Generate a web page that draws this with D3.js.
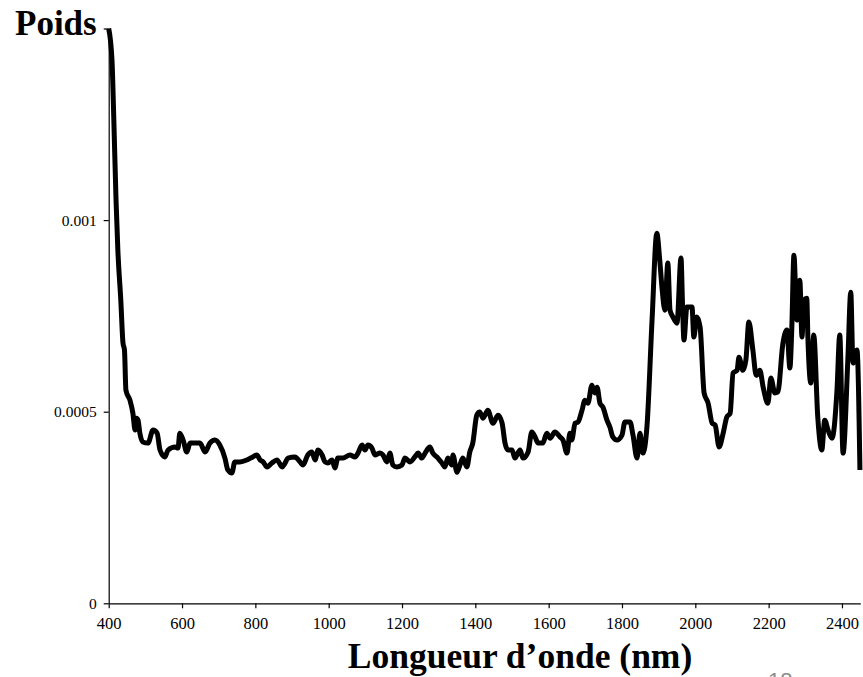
<!DOCTYPE html>
<html>
<head>
<meta charset="utf-8">
<script src="https://cdn.jsdelivr.net/npm/d3@7"></script>
<style>
  html, body { margin: 0; padding: 0; background: #ffffff; }
  svg { display: block; }
</style>
</head>
<body>
<script>
// ---- Data ----
const wavelengths = [400,409,414,420,425,433,439,443,447,458,466,472,476,480,485,493,507,521,532,540,553,562,581,589,594,603,613,622,641,649,663,676,690,703,717,725,736,744,758,777,793,804,813,821,832,845,859,873,881,889,908,922,930,943,954,963,971,982,990,998,1009,1017,1025,1039,1058,1072,1080,1091,1099,1107,1118,1126,1140,1148,1159,1167,1175,1186,1200,1208,1222,1235,1244,1254,1263,1276,1284,1298,1309,1317,1325,1336,1339,1350,1358,1366,1377,1385,1393,1404,1412,1421,1434,1448,1462,1473,1481,1489,1500,1508,1522,1530,1544,1554,1563,1571,1584,1595,1604,1617,1631,1639,1650,1658,1663,1672,1680,1691,1699,1707,1718,1726,1732,1740,1748,1759,1767,1775,1786,1800,1808,1822,1830,1841,1849,1857,1868,1882,1895,1903,1909,1917,1925,1931,1939,1950,1961,1965,1969,1977,1991,1996,2004,2013,2024,2035,2046,2054,2065,2076,2086,2095,2103,2114,2119,2130,2138,2146,2157,2166,2176,2185,2198,2206,2217,2225,2239,2250,2258,2263,2269,2277,2285,2291,2296,2304,2307,2315,2323,2334,2345,2353,2362,2373,2386,2394,2403,2416,2424,2430,2441,2449];
const weights = [0.001500,0.001417,0.001261,0.001052,0.000921,0.000791,0.000679,0.000661,0.000556,0.000530,0.000496,0.000452,0.000483,0.000478,0.000444,0.000421,0.000418,0.000452,0.000444,0.000400,0.000382,0.000400,0.000408,0.000405,0.000444,0.000426,0.000395,0.000418,0.000418,0.000418,0.000395,0.000418,0.000426,0.000413,0.000379,0.000348,0.000340,0.000369,0.000369,0.000374,0.000382,0.000387,0.000374,0.000369,0.000356,0.000366,0.000374,0.000356,0.000366,0.000379,0.000382,0.000369,0.000361,0.000387,0.000395,0.000374,0.000400,0.000387,0.000369,0.000366,0.000374,0.000353,0.000379,0.000379,0.000387,0.000382,0.000392,0.000413,0.000400,0.000413,0.000405,0.000387,0.000392,0.000387,0.000369,0.000392,0.000361,0.000356,0.000361,0.000379,0.000369,0.000382,0.000392,0.000379,0.000392,0.000408,0.000392,0.000379,0.000366,0.000356,0.000379,0.000361,0.000387,0.000342,0.000361,0.000379,0.000356,0.000395,0.000418,0.000491,0.000499,0.000483,0.000504,0.000470,0.000491,0.000470,0.000418,0.000400,0.000400,0.000379,0.000400,0.000379,0.000395,0.000447,0.000434,0.000418,0.000418,0.000444,0.000431,0.000447,0.000434,0.000426,0.000392,0.000444,0.000426,0.000470,0.000473,0.000504,0.000530,0.000522,0.000569,0.000549,0.000564,0.000522,0.000512,0.000478,0.000460,0.000434,0.000426,0.000439,0.000473,0.000473,0.000439,0.000379,0.000444,0.000392,0.000460,0.000739,0.000966,0.000895,0.000825,0.000765,0.000888,0.000765,0.000747,0.000731,0.000901,0.000783,0.000687,0.000773,0.000773,0.000695,0.000747,0.000721,0.000549,0.000522,0.000470,0.000465,0.000408,0.000444,0.000486,0.000496,0.000601,0.000608,0.000642,0.000608,0.000635,0.000734,0.000661,0.000595,0.000608,0.000564,0.000522,0.000588,0.000549,0.000551,0.000679,0.000713,0.000614,0.000713,0.000908,0.000739,0.000843,0.000695,0.000791,0.000796,0.000695,0.000575,0.000700,0.000486,0.000400,0.000478,0.000452,0.000431,0.000549,0.000700,0.000392,0.000635,0.000812,0.000627,0.000661,0.000348];
const xTicks = [400,600,800,1000,1200,1400,1600,1800,2000,2200,2400];
const yTicks = [0, 0.0005, 0.001, 0.0015];
const yTickLabels = ["0", "0.0005", "0.001", ""];
const yTitle = "Poids";
const xTitle = "Longueur d\u2019onde (nm)";
const pageNumber = "18";

// ---- Layout ----
const W = 863, H = 677;
const plotLeft = 108.7, plotRight = 860.3, plotTop = 28.5, plotBottom = 603.3;
const serif = "'Liberation Serif', 'Times New Roman', Times, serif";

const svg = d3.select("body").append("svg")
  .attr("width", W).attr("height", H)
  .attr("viewBox", `0 0 ${W} ${H}`);

const x = d3.scaleLinear().domain([400, 2450]).range([plotLeft, plotRight]);
const y = d3.scaleLinear().domain([0, 0.0015]).range([plotBottom, plotTop]);

// X axis
const xAxis = svg.append("g")
  .attr("transform", `translate(0,${plotBottom})`)
  .call(d3.axisBottom(x).tickValues(xTicks).tickSize(5).tickSizeOuter(0).tickPadding(9)
        .tickFormat(d3.format("d")));
xAxis.select(".domain").attr("stroke", "#000").attr("stroke-width", 1.2);
xAxis.selectAll(".tick line").attr("stroke", "#000").attr("stroke-width", 1.2);
xAxis.selectAll("text").attr("font-family", serif).attr("font-size", 16.5).attr("fill", "#000");

// Y axis
const yAxis = svg.append("g")
  .attr("transform", `translate(${plotLeft},0)`)
  .call(d3.axisLeft(y).tickValues(yTicks).tickSize(5).tickSizeOuter(0).tickPadding(7)
        .tickFormat((d, i) => yTickLabels[i]));
yAxis.select(".domain").attr("stroke", "#000").attr("stroke-width", 1.2);
yAxis.selectAll(".tick line").attr("stroke", "#000").attr("stroke-width", 1.2);
yAxis.selectAll("text").attr("font-family", serif).attr("font-size", 15.5).attr("fill", "#000");

// Line
const pts = wavelengths.map((w, i) => [w, weights[i]]);
const line = d3.line().x(d => x(d[0])).y(d => y(d[1])).curve(d3.curveMonotoneX);
svg.append("path")
  .datum(pts)
  .attr("d", line)
  .attr("fill", "none")
  .attr("stroke", "#000")
  .attr("stroke-width", 5)
  .attr("stroke-linejoin", "round")
  .attr("stroke-linecap", "butt");

// Titles
svg.append("text")
  .attr("x", 15).attr("y", 35)
  .attr("font-family", serif).attr("font-weight", "bold").attr("font-size", 35)
  .attr("fill", "#000")
  .text(yTitle);

svg.append("text")
  .attr("x", 520).attr("y", 668)
  .attr("text-anchor", "middle")
  .attr("font-family", serif).attr("font-weight", "bold").attr("font-size", 35.5)
  .attr("fill", "#000")
  .text(xTitle);

// page number (cut off at the bottom edge, as in the reference)
svg.append("text")
  .attr("x", 768).attr("y", 688)
  .attr("font-family", "'Liberation Sans', Arial, sans-serif").attr("font-size", 22)
  .attr("fill", "#8c8c8c")
  .text(pageNumber);
</script>
</body>
</html>
